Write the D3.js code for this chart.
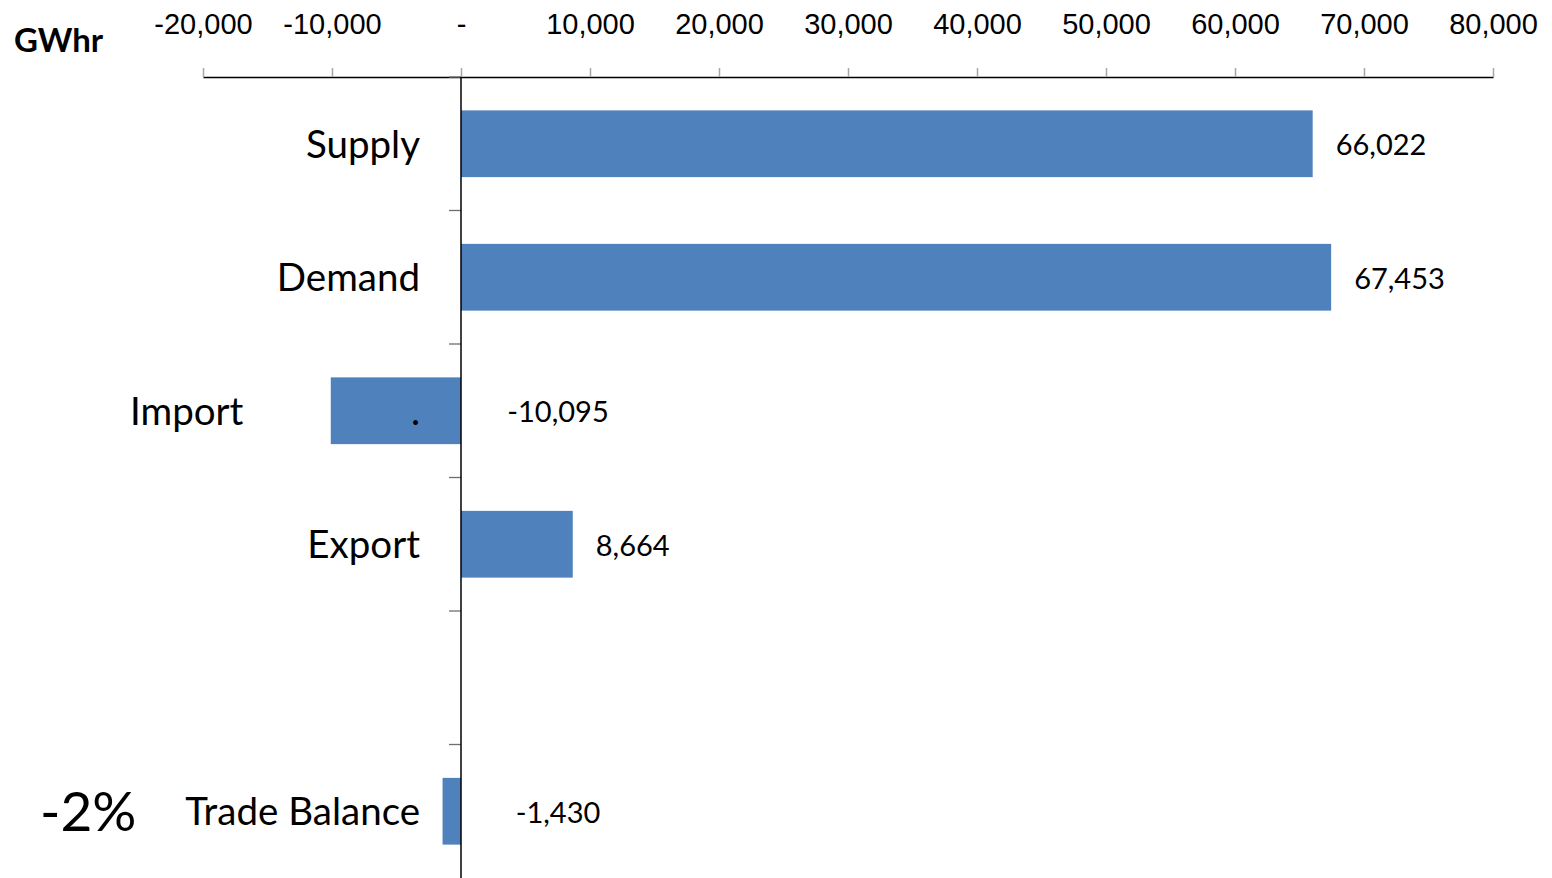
<!DOCTYPE html>
<html>
<head>
<meta charset="utf-8">
<script src="https://cdn.jsdelivr.net/npm/d3@7"></script>
<style>
  html, body { margin: 0; padding: 0; background: #fff; }
  svg { display: block; font-family: Lato, "Open Sans", sans-serif; }
</style>
</head>
<body>
<svg id="chart" width="1552" height="878"></svg>
<script>
// Electricity balance, GWhr
const categories = ["Supply", "Demand", "Import", "Export", "", "Trade Balance"];
const categoryLabels = ["Supply", "Demand", "Import                 .", "Export", "", "Trade Balance"];
const values = [66022, 67453, -10095, 8664, null, -1430];
const xTicks = [-20000, -10000, 0, 10000, 20000, 30000, 40000, 50000, 60000, 70000, 80000];
const unitLabel = "GWhr";
const balanceShare = "-2%";

const svg = d3.select("#chart");
const margin = { top: 77, left: 203, right: 59, bottom: 0 };
const W = 1552, H = 878;

const x = d3.scaleLinear().domain([-20000, 80000]).range([margin.left, W - margin.right]);
const y = d3.scaleBand().domain(categories).range([margin.top, H - margin.bottom])
  .paddingInner(0.5).paddingOuter(0.25);

const locale = d3.formatLocale({ decimal: ".", thousands: ",", grouping: [3], currency: ["", ""], minus: "-" });
const fmt = v => v === 0 ? "-" : locale.format(",")(v);
const step = y.step();

// top value axis
const xAxis = svg.append("g")
  .attr("transform", `translate(0,${margin.top})`)
  .call(d3.axisTop(x).tickValues(xTicks).tickFormat(fmt).tickSize(9).tickPadding(34).tickSizeOuter(0));
xAxis.select(".domain").attr("stroke", "#000").attr("stroke-width", 1.3);
xAxis.selectAll(".tick line").attr("stroke", "#a6a6a6").attr("stroke-width", 1.5);
xAxis.selectAll(".tick text").attr("fill", "#000").style("font-size", "29px");

// bars
const data = categories.map((c, i) => ({ c, v: values[i] })).filter(d => d.v !== null);
svg.append("g").selectAll("rect").data(data).join("rect")
  .attr("x", d => x(Math.min(0, d.v)))
  .attr("width", d => Math.abs(x(d.v) - x(0)))
  .attr("y", d => y(d.c))
  .attr("height", y.bandwidth())
  .attr("fill", "#4F81BD");

// category axis along zero, ticks at band boundaries
const boundaries = d3.range(categories.length).map(i => margin.top + i * step);
svg.append("g").selectAll("line").data(boundaries).join("line")
  .attr("x1", x(0) - 12).attr("x2", x(0))
  .attr("y1", d => d).attr("y2", d => d)
  .attr("stroke", "#6e6e6e").attr("stroke-width", 1.3);
svg.append("line")
  .attr("x1", x(0)).attr("x2", x(0))
  .attr("y1", margin.top).attr("y2", H)
  .attr("stroke", "#000").attr("stroke-width", 1.5);

// category labels
svg.append("g").selectAll("text").data(categories.map((c, i) => ({ c, label: categoryLabels[i] }))).join("text")
  .attr("x", x(0) - 41)
  .attr("y", d => y(d.c) + y.bandwidth() / 2)
  .attr("dy", "0.36em")
  .attr("text-anchor", "end")
  .style("white-space", "pre")
  .style("font-size", "38.5px")
  .attr("fill", "#000")
  .text(d => d.label);

// value labels
svg.append("g").selectAll("text").data(data).join("text")
  .attr("x", d => d.v >= 0 ? x(d.v) + 23 : x(0) + 97)
  .attr("y", d => y(d.c) + y.bandwidth() / 2)
  .attr("dy", "0.4em")
  .attr("text-anchor", d => d.v >= 0 ? "start" : "middle")
  .style("font-size", "29px")
  .attr("fill", "#000")
  .text(d => fmt(d.v));

// unit label
svg.append("text")
  .attr("x", 14).attr("y", 52)
  .style("font-size", "33px").style("font-weight", "bold")
  .attr("fill", "#000")
  .text(unitLabel);

// trade balance share
svg.append("text")
  .attr("x", 40)
  .attr("y", y("Trade Balance") + y.bandwidth() / 2)
  .attr("dy", "0.36em")
  .style("font-size", "55px")
  .attr("fill", "#000")
  .text(balanceShare);
</script>
</body>
</html>
